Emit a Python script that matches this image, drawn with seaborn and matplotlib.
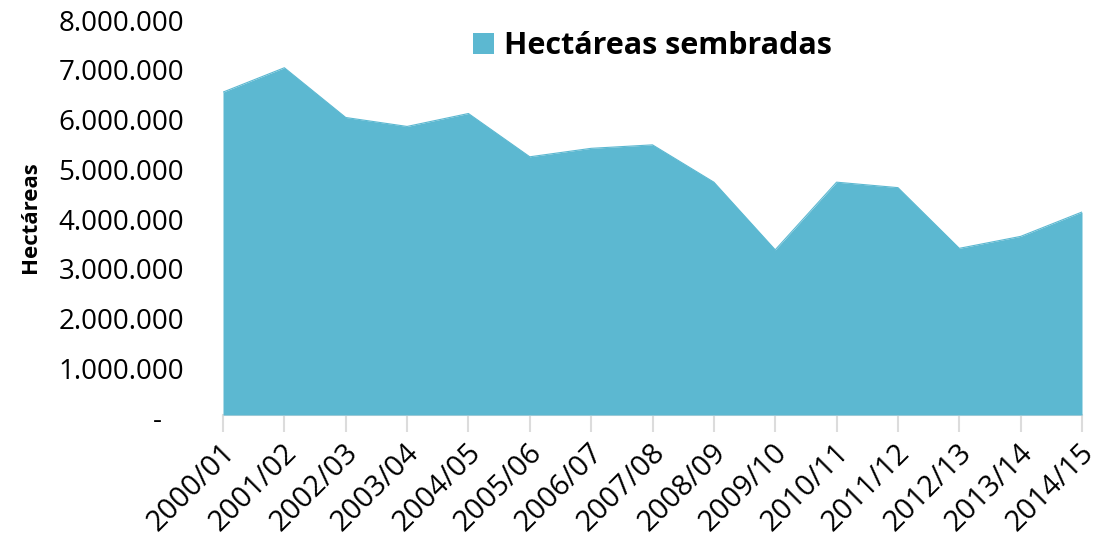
import matplotlib
matplotlib.use("Agg")
import matplotlib.pyplot as plt
import matplotlib.transforms as mtransforms
from matplotlib.patches import Patch
from matplotlib.ticker import FuncFormatter, FixedLocator
import seaborn as sns
import pandas as pd

campaigns = ["2000/01", "2001/02", "2002/03", "2003/04", "2004/05", "2005/06",
             "2006/07", "2007/08", "2008/09", "2009/10", "2010/11", "2011/12",
             "2012/13", "2013/14", "2014/15"]
hectareas = [6490000, 6980000, 5980000, 5800000, 6060000, 5190000,
             5360000, 5430000, 4680000, 3320000, 4680000, 4570000,
             3350000, 3590000, 4080000]
y_ticks = [0, 1000000, 2000000, 3000000, 4000000, 5000000, 6000000, 7000000, 8000000]
series_name = "Hectáreas sembradas"
y_label = "Hectáreas"

sns.set_style("white")
plt.rcParams['font.family'] = ['Open Sans', 'DejaVu Sans']
plt.rcParams['text.color'] = 'black'
plt.rcParams['axes.labelcolor'] = 'black'

color = "#5cb8d1"
df = pd.DataFrame({"pos": range(len(campaigns)), "campaign": campaigns, "value": hectareas})

fig = plt.figure(figsize=(11.05, 5.41), dpi=100)
ax = fig.add_axes([223/1105, 1-415/541, (1082-223)/1105, (415-17)/541])

sns.lineplot(data=df, x="pos", y="value", ax=ax, color=color, linewidth=0.8, legend=False)
ax.fill_between(df["pos"], df["value"], 0, color=color, linewidth=0)

ax.set_xlim(0, len(campaigns) - 1)
ax.set_ylim(0, 8000000)
ax.yaxis.set_major_locator(FixedLocator(y_ticks))

def fmt(v, p):
    if v == 0:
        return "-   "
    return f"{int(v):,}".replace(",", ".")
ax.yaxis.set_major_formatter(FuncFormatter(fmt))
ax.tick_params(axis="y", length=0, pad=28, labelsize=20, labelcolor="black")
yoff = mtransforms.ScaledTranslation(0, -3/100, fig.dpi_scale_trans)
for lab in ax.get_yticklabels():
    lab.set_transform(lab.get_transform() + yoff)

ax.set_xticks(df["pos"])
ax.set_xticklabels(campaigns, rotation=45, ha="right", va="center", rotation_mode="anchor")
ax.tick_params(axis="x", bottom=True, length=12, width=1.5, color="#dcdcdc", direction="out",
               pad=10, labelsize=21, labelcolor="black")
offset = mtransforms.ScaledTranslation(8/100, -3/100, fig.dpi_scale_trans)
for lab in ax.get_xticklabels():
    lab.set_transform(lab.get_transform() + offset)

for s in ["left", "right", "top"]:
    ax.spines[s].set_visible(False)
ax.spines["bottom"].set_color("#dcdcdc")
ax.spines["bottom"].set_linewidth(1.5)
ax.spines["bottom"].set_zorder(0)

ax.set_xlabel("")
ax.set_ylabel(y_label, fontsize=16, fontweight="bold", labelpad=14, color="black")
ax.yaxis.set_label_coords(-182/859, (415-217)/398)

fig.legend([Patch(facecolor=color, edgecolor="none")], [series_name],
           loc="center left", bbox_to_anchor=(473/1105, 1-46/541),
           frameon=False, borderpad=0, borderaxespad=0,
           handlelength=0.7, handleheight=0.7, handletextpad=0.3,
           labelcolor="black",
           prop={"size": 22, "weight": "bold"})

fig.savefig("out.png", dpi=100)
